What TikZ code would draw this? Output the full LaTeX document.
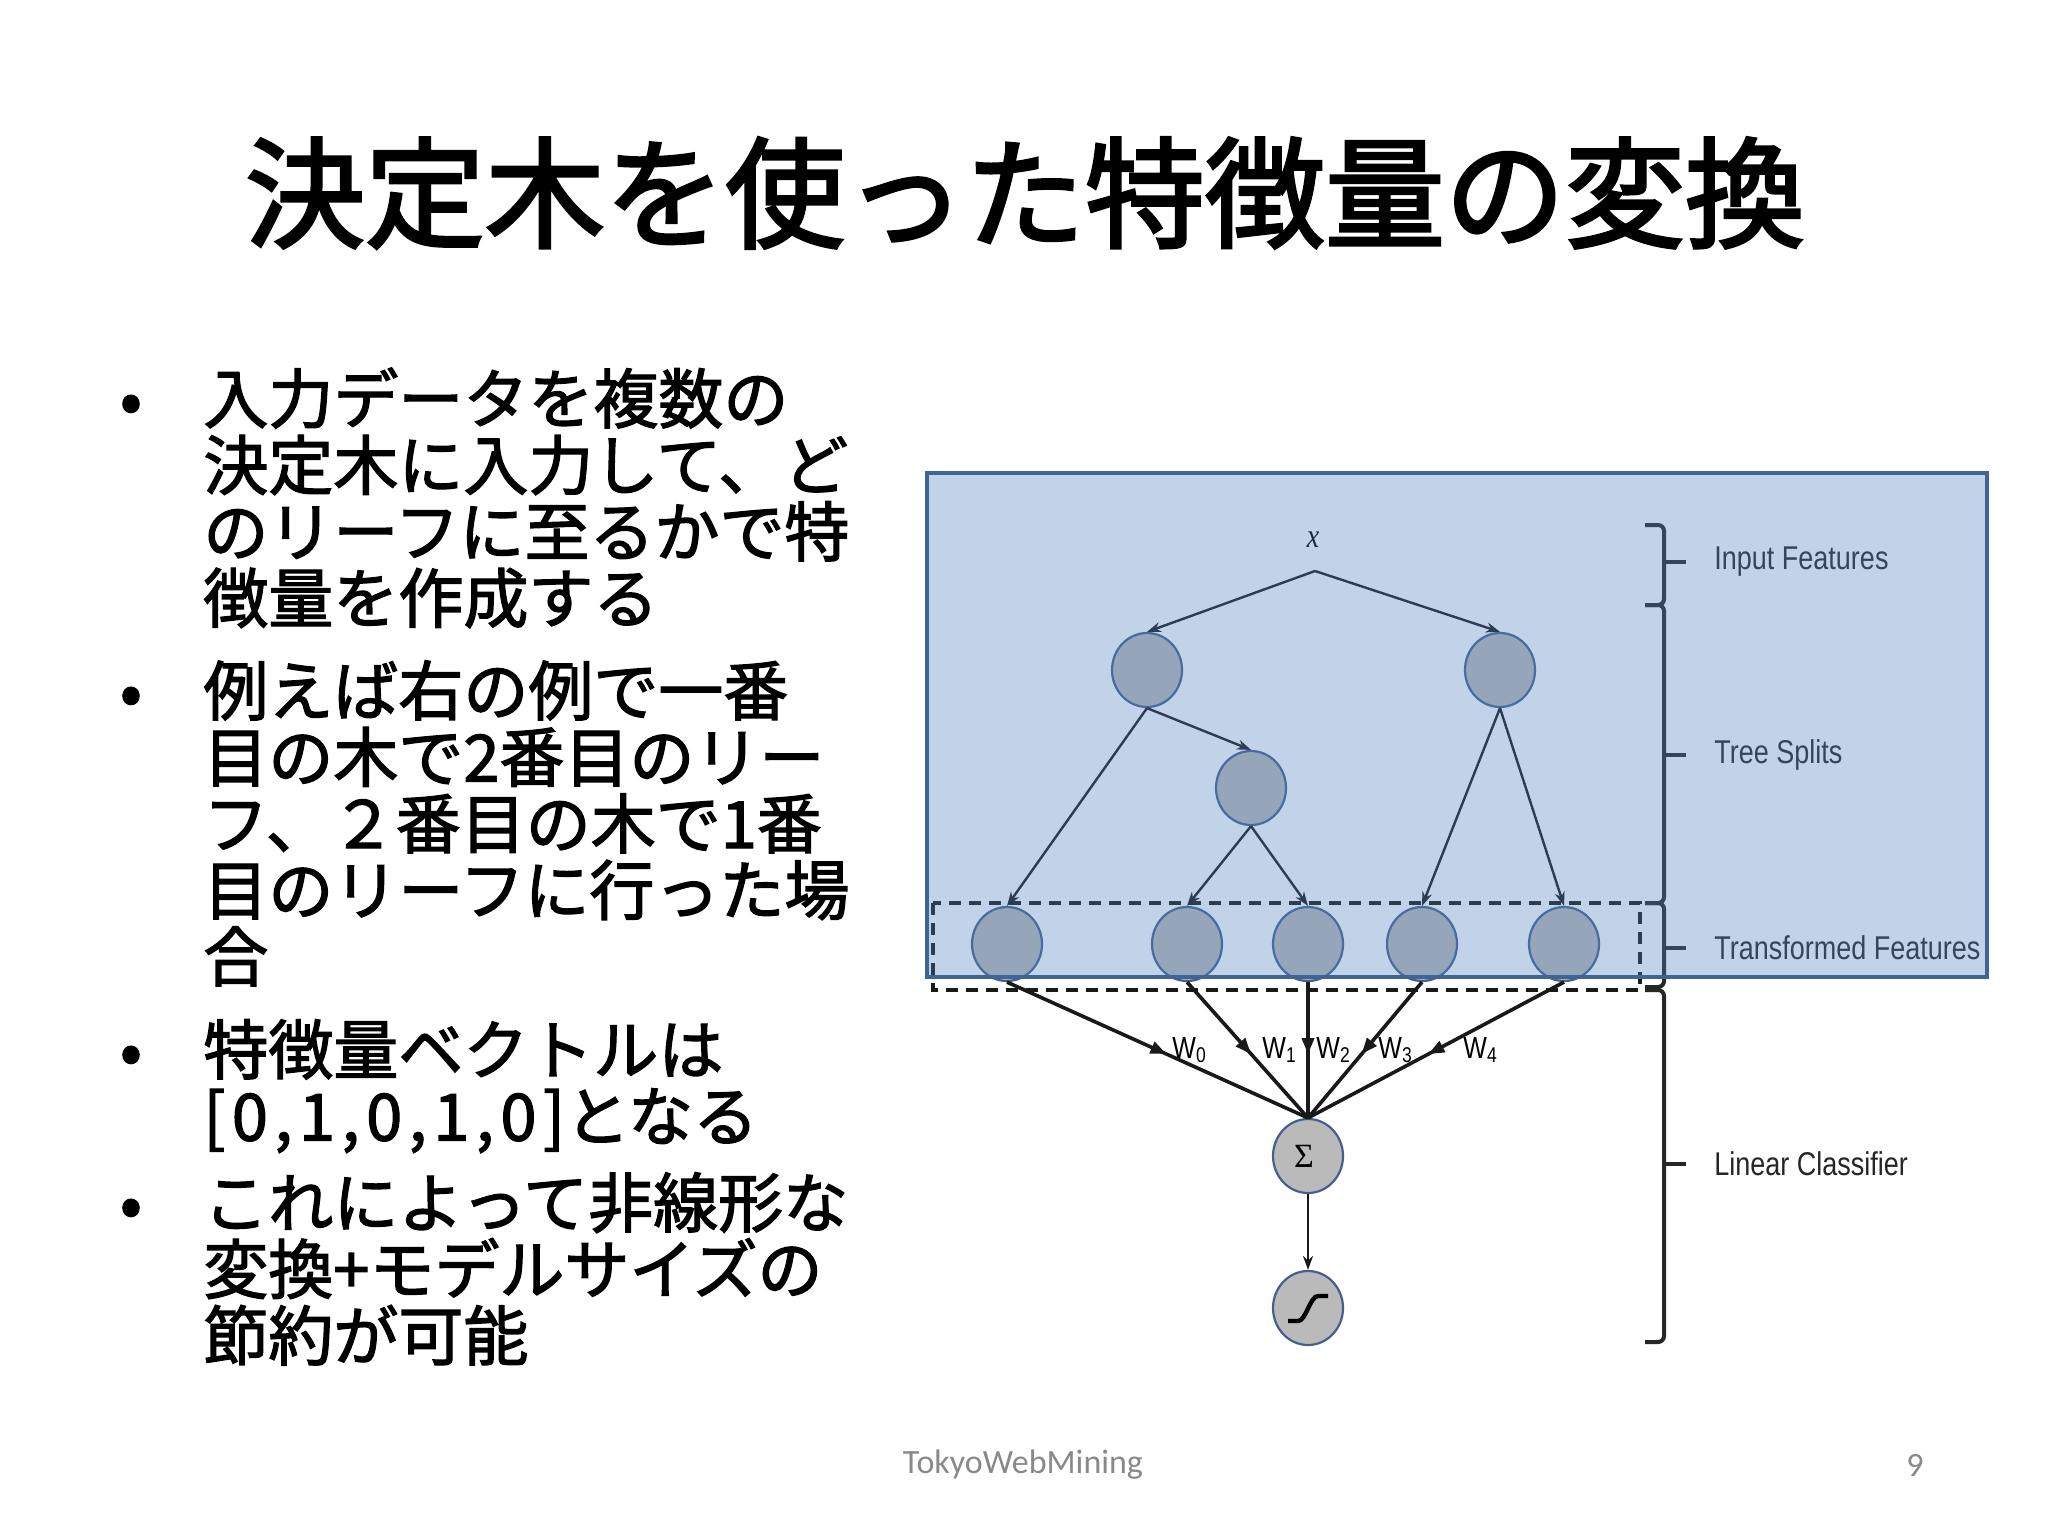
\documentclass[tikz,border=0pt]{standalone}
\usepackage{graphicx}
\usepackage{fontspec}
\setmainfont{Noto Sans CJK JP}
\newfontfamily\titlefont[FakeBold=2.5]{Noto Sans CJK JP}
\newfontfamily\bodyfont[FakeBold=2]{Noto Sans CJK JP}
\newfontfamily\diagfont{Liberation Sans}
\newfontfamily\serffont{Liberation Serif}
\newfontfamily\footfont{Carlito}
\usetikzlibrary{arrows.meta,decorations.markings,shapes.geometric}
\definecolor{hiblue}{RGB}{80,130,190}
\definecolor{hiedge}{RGB}{65,100,150}
\definecolor{nodefill}{RGB}{186,186,186}
\definecolor{nodeedge}{RGB}{70,95,140}
\definecolor{footgray}{RGB}{137,137,137}
\newcommand{\tallbox}[1]{\scalebox{1}[1.22]{#1}}
\begin{document}
\begin{tikzpicture}[x=0.5pt,y=-0.5pt,
  unit/.style={ellipse,minimum width=35pt,minimum height=37pt,inner sep=0pt,fill=nodefill,draw=nodeedge,line width=1.1pt},
  tree/.style={-{Stealth[length=7pt,width=5pt]},line width=1.2pt,draw=black!90},
  wline/.style={line width=1.8pt,draw=black!90,postaction={decorate},
    decoration={markings,mark=at position 0.53 with {\arrow{Triangle[length=8pt,width=6pt]}}}},
  wlab/.style={anchor=base west,inner sep=0pt,font=\diagfont\fontsize{12.5}{14}\selectfont},
  level/.style={anchor=west,inner sep=0pt,text=black!85,font=\diagfont\fontsize{13.5}{16}\selectfont},
  bracket/.style={line width=2pt,draw=black!85,rounded corners=3pt},
  dashbox/.style={line width=1.6pt,dash pattern=on 6pt off 4pt,draw=black!90},
  hilite/.style={fill=hiblue,fill opacity=0.35,draw=hiedge,line width=2pt},
  bodytext/.style={anchor=base west,inner sep=0pt,font=\bodyfont\fontsize{32.5}{33}\selectfont},
  footer/.style={inner sep=0pt,text=footgray,font=\footfont\fontsize{17}{20}\selectfont}]
  \fill[white] (0,0) rectangle (2048,1536);
  % title
  \node[font=\titlefont\fontsize{60}{72}\selectfont] (title) at (1025,193) {決定木を使った特徴量の変換};
  % bullets
  \foreach \y [count=\k] in {423,715,1074,1227}
    \node[bodytext,anchor=base] (bul\k) at (131,\y) {•};
  \foreach \ln [count=\i from 0] in {入力データを複数の,決定木に入力して、ど,のリーフに至るかで特,徴量を作成する}
    \node[bodytext] (pa\i) at (203,423+66.5*\i) {\ln};
  \foreach \ln [count=\i from 0] in {例えば右の例で一番,目の木で2番目のリー,フ、２番目の木で1番,目のリーフに行った場,合}
    \node[bodytext] (pb\i) at (203,715+66.5*\i) {\ln};
  \foreach \ln [count=\i from 0] in {特徴量ベクトルは,{{\addfontfeature{LetterSpace=10}[0,1,0,1,0]}となる}}
    \node[bodytext] (pc\i) at (203,1074+66.5*\i) {\ln};
  \foreach \ln [count=\i from 0] in {これによって非線形な,変換+モデルサイズの,節約が可能}
    \node[bodytext] (pd\i) at (203,1227+66.5*\i) {\ln};
  % trees
  \coordinate (root) at (1315,571);
  \node[inner sep=0pt,font=\serffont\itshape\fontsize{14}{16}\selectfont] (xin) at (1313,540) {\tallbox{x}};
  \node[unit] (a) at (1147,670) {};
  \node[unit] (b) at (1500,670) {};
  \node[unit] (c) at (1251,788) {};
  \foreach \x [count=\i] in {1007,1187,1308,1422,1564}
    \node[unit] (l\i) at (\x,944) {};
  \draw[tree] (root) -- (a.north);
  \draw[tree] (root) -- (b.north);
  \draw[tree] (a.south) -- (c.north);
  \draw[tree] (a.south) -- (l1.north);
  \draw[tree] (c.south) -- (l2.north);
  \draw[tree] (c.south) -- (l3.north);
  \draw[tree] (b.south) -- (l4.north);
  \draw[tree] (b.south) -- (l5.north);
  \draw[dashbox] (933,903) rectangle (1640,990);
  % linear classifier
  \node[unit] (sum) at (1308,1156) {\serffont\fontsize{17}{19}\selectfont\hspace{-4pt}Σ};
  \node[unit] (sig) at (1308,1308) {};
  \begin{scope}[shift={(sig.center)}]
    \draw[line width=2.2pt] (-20,13) -- (-10,13) .. controls (-2,13) and (2,-12) .. (10,-12) -- (20,-12);
  \end{scope}
  \foreach \i in {1,...,5}
    \draw[wline] (l\i.south) -- (sum.north);
  \draw[tree] (sum) -- (sig);
  \node[wlab] (w0) at (1172,1058) {\tallbox{W\textsubscript{0}}};
  \node[wlab] (w1) at (1262,1058) {\tallbox{W\textsubscript{1}}};
  \node[wlab] (w2) at (1316,1058) {\tallbox{W\textsubscript{2}}};
  \node[wlab] (w3) at (1378,1058) {\tallbox{W\textsubscript{3}}};
  \node[wlab] (w4) at (1463,1058) {\tallbox{W\textsubscript{4}}};
  % brackets
  \foreach \t/\m/\b/\txt [count=\k] in {525/562/605/Input Features,605/755/903/Tree Splits,903/948/987/Transformed Features,990/1164/1342/Linear Classifier}{
    \draw[bracket] (1645,\t) -- (1664,\t) -- (1664,\b) -- (1645,\b);
    \draw[bracket] (1664,\m) -- (1686,\m);
    \node[level] (lev\k) at (1714,\m) {\tallbox{\txt}};
  }
  % highlight
  \draw[hilite] (927,473) rectangle (1987,977);
  % footer
  \node[footer] (ft) at (1023,1465) {TokyoWebMining};
  \node[footer,anchor=east] (pg) at (1924,1465) {9};
\end{tikzpicture}
\end{document}
